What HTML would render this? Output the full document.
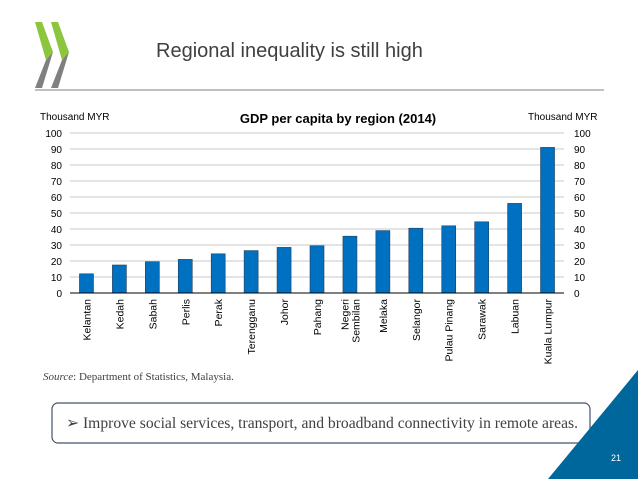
<!DOCTYPE html>
<html><head><meta charset="utf-8"><style>
body{margin:0;width:638px;height:479px;overflow:hidden;background:#fff;font-family:"Liberation Sans",sans-serif;position:relative}
</style></head><body>
<svg width="638" height="479" style="position:absolute;left:0;top:0">
<g>
<polygon points="35,22 42,22 53,52 46,60" fill="#8cc63f"/>
<polygon points="46,60 53,52 42,88 35,88" fill="#808080"/>
<polygon points="51,22 58,22 69,52 62,60" fill="#8cc63f"/>
<polygon points="62,60 69,52 58,88 51,88" fill="#808080"/>
</g>
<text x="156" y="57" font-size="20" fill="#404040">Regional inequality is still high</text>
<line x1="35" y1="90" x2="604" y2="90" stroke="#808080" stroke-width="1"/>
<text x="338" y="123" font-size="13" font-weight="bold" text-anchor="middle" fill="#000">GDP per capita by region (2014)</text>
<text x="40" y="120" font-size="10" fill="#000">Thousand MYR</text>
<text x="528" y="120" font-size="10" fill="#000">Thousand MYR</text>
<g id="chart"></g>
<text x="43" y="380" font-size="11" font-family="Liberation Serif,serif" fill="#404040"><tspan font-style="italic">Source</tspan>: Department of Statistics, Malaysia.</text>
<rect x="52" y="403" width="538" height="40" rx="6" fill="#fff" stroke="#44546a" stroke-width="1.2"/>
<text x="66" y="428" font-size="16" textLength="512" lengthAdjust="spacingAndGlyphs" font-family="Liberation Serif,serif" fill="#404040">➢  Improve social services, transport, and broadband connectivity in remote areas.</text>
<polygon points="638,370 638,479 548,479" fill="#00679d"/>
<text x="611" y="461" font-size="9" fill="#fff">21</text>
</svg>
<script>
const categories=["Kelantan","Kedah","Sabah","Perlis","Perak","Terengganu","Johor","Pahang","Negeri|Sembilan","Melaka","Selangor","Pulau Pinang","Sarawak","Labuan","Kuala Lumpur"];
const values=[12,17.5,19.5,21,24.5,26.5,28.5,29.5,35.5,39,40.5,42,44.5,56,91];
const ticks=[0,10,20,30,40,50,60,70,80,90,100];
const X0=70,X1=564,Y0=293,Y1=133,MAX=100;
const y=v=>Y0-(v/MAX)*(Y0-Y1);
const step=(X1-X0)/categories.length;
const x=i=>X0+step*(i+0.5);
const g=document.getElementById('chart');
const NS='http://www.w3.org/2000/svg';
function mk(t,a){const e=document.createElementNS(NS,t);for(const k in a)e.setAttribute(k,a[k]);g.appendChild(e);return e;}
ticks.forEach(t=>{
 if(t>0){const l=mk('line',{x1:X0,x2:X1,y1:y(t),y2:y(t),stroke:'#c8c8c8','stroke-width':1});
 
 }
 const a=mk('text',{x:62,y:y(t)+4,'font-size':10,'text-anchor':'end',fill:'#000'});a.textContent=t;
 
 
 const b=mk('text',{x:574,y:y(t)+4,'font-size':10,fill:'#000'});b.textContent=t;
 
 
});
values.forEach((v,i)=>{
 const r=mk('rect',{x:x(i)-7,y:y(v),width:14,height:Y0-y(v),fill:'#0070c0',stroke:'#1f3f5f','stroke-width':0.6});
 
 
 const lines=categories[i].split('|');
 lines.forEach((s,j)=>{
  const off=(j-(lines.length-1)/2)*11;
  const t=mk('text',{x:0,y:0,'font-size':10.5,'text-anchor':'end',fill:'#000',transform:`translate(${x(i)+4+off},${Y0+6}) rotate(-90)`});
  t.textContent=s;
  
  
 });
});
const ax=mk('line',{x1:X0,x2:X1,y1:Y0,y2:Y0,stroke:'#000','stroke-width':1});


</script>
</body></html>
